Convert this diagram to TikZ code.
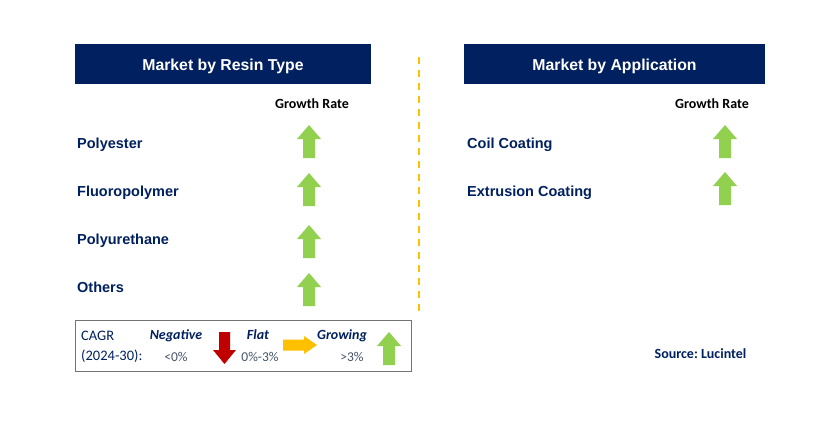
\documentclass[tikz,border=0pt]{standalone}
\usepackage{fontspec}
\setmainfont{Liberation Sans}
\newfontfamily\calib{Carlito}
\definecolor{navy}{HTML}{002060}
\definecolor{grn}{HTML}{92D050}
\definecolor{redarr}{HTML}{C00000}
\definecolor{orng}{HTML}{FFC000}
\definecolor{pctgrey}{HTML}{44546A}
\frenchspacing
\begin{document}
\begin{tikzpicture}[x=1pt,y=-1pt,
  hdr/.style={fill=navy,text=white,font=\fontsize{15.8}{18}\selectfont\bfseries,minimum height=40pt,inner sep=0pt},
  item/.style={anchor=base west,text=navy,font=\fontsize{14.5}{17}\selectfont\bfseries,inner sep=0pt},
  gr/.style={anchor=base,font=\calib\fontsize{14}{16}\selectfont\bfseries,inner sep=0pt},
  leg/.style={anchor=base west,text=navy,font=\calib\fontsize{14.5}{16}\selectfont,inner sep=0pt},
  legi/.style={anchor=base,text=navy,font=\calib\fontsize{14}{16}\selectfont\bfseries\itshape,inner sep=0pt},
  pct/.style={anchor=base,text=pctgrey,font=\calib\fontsize{13.5}{16}\selectfont,inner sep=0pt},
  greenup/.pic={\fill[grn] (0,0)--(12,14)--(6,14)--(6,33)--(-6,33)--(-6,14)--(-12,14)--cycle;},
  reddown/.pic={\fill[redarr] (0,0)--(11.5,-14)--(5.5,-14)--(5.5,-32)--(-5.5,-32)--(-5.5,-14)--(-11.5,-14)--cycle;},
  orangeright/.pic={\fill[orng] (0,0)--(-13,-9)--(-13,-5.5)--(-34,-5.5)--(-34,5.5)--(-13,5.5)--(-13,9)--cycle;}
]
\useasboundingbox[fill=white] (0,0) rectangle (827,431);

% headers
\node[hdr,minimum width=296pt] (h1) at (223,64) {};
\node[hdr,minimum width=301pt] (h2) at (614.5,64) {};
\node[hdr,fill=none,anchor=base,minimum height=0pt] (h1t) at (223,70.5) {Market by Resin Type};
\node[hdr,fill=none,anchor=base,minimum height=0pt] (h2t) at (614.5,70.5) {Market by Application};

% divider
\coordinate (d1) at (419,57);
\coordinate (d2) at (419,316);
\draw[orng,line width=1.6pt,dash pattern=on 7pt off 6pt] (d1) -- (d2);

% growth rate titles
\node[gr] (g1) at (312,108.3) {Growth Rate};
\node[gr] (g2) at (712,108.3) {Growth Rate};

% left items
\node[item] (p1) at (77,148) {Polyester};
\node[item] (p2) at (77,196) {Fluoropolymer};
\node[item] (p3) at (77,244) {Polyurethane};
\node[item] (p4) at (77,292) {Others};
\pic (a1) at (309,125) {greenup};
\pic (a2) at (309,173) {greenup};
\pic (a3) at (309,225) {greenup};
\pic (a4) at (309,273) {greenup};

% right items
\node[item] (q1) at (467,148) {Coil Coating};
\node[item] (q2) at (467,196.5) {Extrusion Coating};
\pic (b1) at (725,125) {greenup};
\pic (b2) at (725,172) {greenup};

% legend
\node[draw=black!55,line width=0.8pt,minimum width=336pt,minimum height=51pt,inner sep=0pt] (legbox) at (243,345.5) {};
\node[leg] (c1) at (81,340.7) {CAGR};
\node[leg] (c2) at (81,360) {(2024-30):};
\node[legi] (n1) at (176,339.5) {Negative};
\node[pct] (n2) at (176,361.5) {<0\%};
\pic (rd) at (224.5,364) {reddown};
\node[legi] (f1) at (258,339.5) {Flat};
\node[pct] (f2) at (260,361.5) {0\%-3\%};
\pic (or) at (317,345) {orangeright};
\node[legi] (w1) at (342,339.5) {Growing};
\node[pct] (w2) at (352,361.5) {>3\%};
\pic (gu) at (389,332) {greenup};

% source
\node[gr,text=navy] (src) at (700.5,358) {Source: Lucintel};
\end{tikzpicture}
\end{document}
